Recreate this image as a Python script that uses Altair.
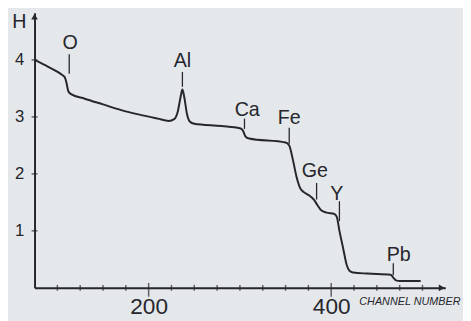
import altair as alt
import pandas as pd

# curve data (channel number, H)
channel = [75, 90, 105, 108, 110, 112, 115, 130, 150, 170, 190, 210, 222, 228, 232,
           235, 237, 239, 242, 245, 250, 280, 300, 303, 306, 310, 350, 354, 358, 362,
           366, 370, 376, 381, 385, 389, 395, 403, 406, 409, 413, 417, 420, 424, 440,
           465, 468, 471, 475, 498]
H = [4.00, 3.88, 3.74, 3.70, 3.60, 3.45, 3.40, 3.32, 3.22, 3.12, 3.04, 2.97, 2.93, 2.96, 3.10,
     3.35, 3.48, 3.35, 3.05, 2.92, 2.88, 2.84, 2.80, 2.77, 2.66, 2.62, 2.55, 2.50, 2.25, 1.95,
     1.75, 1.68, 1.62, 1.55, 1.45, 1.36, 1.32, 1.30, 1.25, 1.00, 0.70, 0.40, 0.30, 0.27, 0.25,
     0.23, 0.18, 0.13, 0.12, 0.12]

# element labels
elements = ["O", "Al", "Ca", "Fe", "Ge", "Y", "Pb"]
label_x = [114, 237, 308, 354, 382, 406, 474]
label_y = [4.19, 3.88, 3.02, 2.88, 1.95, 1.55, 0.47]
mark_x = [113, 237, 305, 354, 384, 409, 468]
mark_top = [4.10, 3.79, 2.97, 2.81, 1.84, 1.52, 0.43]
mark_bot = [3.76, 3.53, 2.79, 2.53, 1.55, 1.17, 0.22]

# axis ticks
x_ticks = list(range(100, 501, 25))
x_major = [200, 400]
y_ticks = [1, 2, 3, 4]

XMIN, XMAX = 75, 525
YMIN, YMAX = 0, 4.83
INK = "#26262c"
FONT = "Liberation Sans"

curve_df = pd.DataFrame({"ch": channel, "H": H})
lab_df = pd.DataFrame({"el": elements, "lx": label_x, "ly": label_y,
                       "mx": mark_x, "mt": mark_top, "mb": mark_bot})
xt_df = pd.DataFrame({"ch": [t for t in x_ticks if t not in x_major], "H": 0})
xM_df = pd.DataFrame({"ch": x_major, "H": 0})
yt_df = pd.DataFrame({"ch": XMIN, "H": y_ticks})
arrow_df = pd.DataFrame({"ch": [XMIN, XMAX - 4], "H": [YMAX - 0.07, 0],
                         "shape": ["triangle-up", "triangle-right"]})

xs = alt.Scale(domain=[XMIN, XMAX], nice=False, zero=False)
ys = alt.Scale(domain=[YMIN, YMAX], nice=False, zero=False)

xaxis = alt.Axis(values=x_major, ticks=False, grid=False, domainColor=INK, domainWidth=2,
                 labelFontSize=23, labelColor=INK, labelFont=FONT, labelPadding=8,
                 title="CHANNEL NUMBER", titleFontSize=11, titleFontStyle="italic",
                 titleFontWeight="normal", titleColor=INK, titleFont=FONT,
                 titleX=330, titleY=17, titleAlign="left", titleBaseline="alphabetic")
yaxis = alt.Axis(values=y_ticks, format="d", ticks=False, grid=False, domainColor=INK,
                 domainWidth=2, labelFontSize=17, labelColor=INK, labelFont=FONT,
                 labelPadding=11,
                 title="H", titleFontSize=20, titleFontWeight="normal", titleColor=INK,
                 titleFont=FONT, titleAngle=0, titleX=-16, titleY=15,
                 titleAlign="center", titleBaseline="alphabetic")

curve = alt.Chart(curve_df).mark_line(interpolate="monotone", color=INK, strokeWidth=2).encode(
    x=alt.X("ch:Q", scale=xs, axis=xaxis),
    y=alt.Y("H:Q", scale=ys, axis=yaxis),
)

marks = alt.Chart(lab_df).mark_rule(color=INK, strokeWidth=1.3).encode(
    x=alt.X("mx:Q", scale=xs), y=alt.Y("mt:Q", scale=ys), y2="mb:Q")

texts = alt.Chart(lab_df).mark_text(fontSize=20, font=FONT, color=INK, align="center",
                                    baseline="alphabetic").encode(
    x=alt.X("lx:Q", scale=xs), y=alt.Y("ly:Q", scale=ys), text="el:N")

xt = alt.Chart(xt_df).mark_tick(orient="vertical", size=6, thickness=1.5, color=INK).encode(
    x=alt.X("ch:Q", scale=xs), y=alt.Y("H:Q", scale=ys))
xM = alt.Chart(xM_df).mark_tick(orient="vertical", size=14, thickness=1.5, color=INK, yOffset=2).encode(
    x=alt.X("ch:Q", scale=xs), y=alt.Y("H:Q", scale=ys))
yt = alt.Chart(yt_df).mark_tick(orient="horizontal", size=6, thickness=1.5, color=INK).encode(
    x=alt.X("ch:Q", scale=xs), y=alt.Y("H:Q", scale=ys))

arrows = alt.Chart(arrow_df).mark_point(filled=True, size=45, color=INK, opacity=1).encode(
    x=alt.X("ch:Q", scale=xs), y=alt.Y("H:Q", scale=ys),
    shape=alt.Shape("shape:N", scale=None))

chart = alt.layer(curve, marks, texts, xt, xM, yt, arrows).properties(
    width=418, height=280,
    padding={"left": 27, "top": 2, "right": 18, "bottom": 31},
    autosize=alt.AutoSizeParams(type="none"),
    background="#e4e8eb",
).configure_view(stroke=None)

chart.save("out.html", embed_options={"renderer": "svg", "actions": False})
